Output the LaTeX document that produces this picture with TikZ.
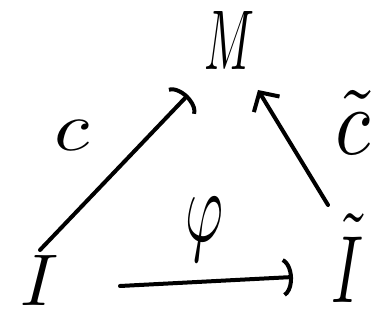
\documentclass[tikz,border=0pt]{standalone}
\usetikzlibrary{arrows.meta,calc}
\begin{document}
\begin{tikzpicture}[x=1pt,y=1pt,
  lbl/.style={inner sep=0pt},
  conn/.style={line width=4pt,line cap=round},
  hooktip/.style={-{Arc Barb[arc=150,length=12pt,width=40pt,line width=4pt]}},
  bartip/.style={-{Straight Barb[length=14pt,width=30pt,line width=4pt]}}]
\useasboundingbox (0,0) rectangle (378,322);
\node[lbl] (M)  at (230,282) {\resizebox{50pt}{58pt}{$M$}};
\node[lbl] (I)  at (40,42)   {\resizebox{38pt}{50pt}{$I$}};
\node[lbl] (It) at (347,64)  {\resizebox{32pt}{88pt}{$\tilde I$}};
\node[lbl] (c)  at (72,187)  {\resizebox{35pt}{30pt}{$c$}};
\node[lbl] (ct) at (353,200) {\resizebox{35pt}{64pt}{$\tilde c$}};
\node[lbl] (phi) at (205,93) {\resizebox{38pt}{44pt}{$\varphi$}};
\draw[conn,hooktip] ($(I)+(0,30)$) -- ($(M)+(-42,-55)$);
\draw[conn,hooktip] ($(I)+(80,-6)$) -- ($(It)+(-54,-19)$);
\draw[conn,bartip] ($(It)+(-19,53)$) -- ($(M)+(28,-50)$);
\end{tikzpicture}
\end{document}
